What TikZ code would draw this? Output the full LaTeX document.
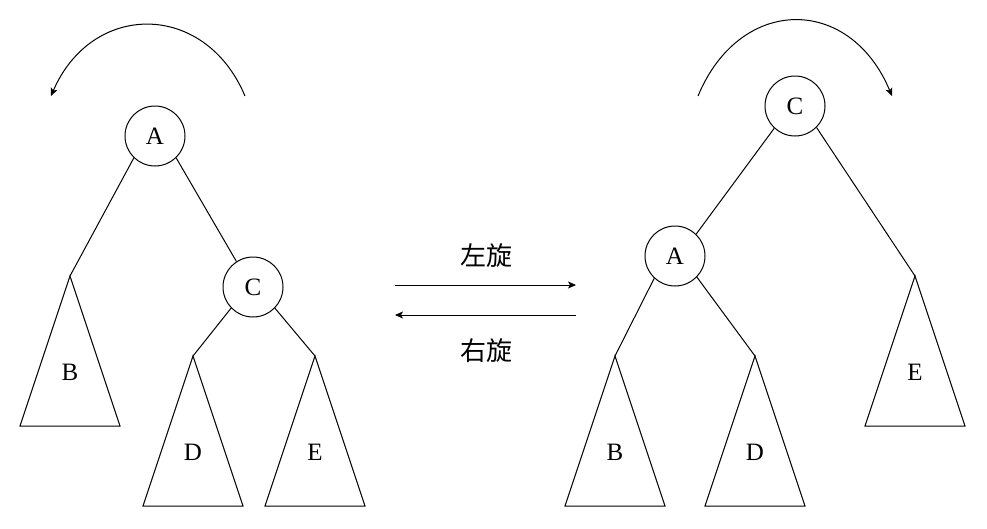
\documentclass[tikz,border=0pt]{standalone}
\usepackage{fontspec}
\setmainfont{Liberation Serif}
\newfontfamily\cjk{Noto Sans CJK SC}
\usetikzlibrary{arrows.meta}
\begin{document}
\begin{tikzpicture}[x=1pt,y=-1pt,line width=1pt,
  tip/.style={-{Stealth[length=8pt,width=7pt,inset=2pt]}},
  circ/.style={draw,circle,minimum size=60pt,inner sep=0pt,font=\fontsize{25}{30}\selectfont},
  lab/.style={font=\fontsize{25}{30}\selectfont},
  zh/.style={font=\cjk\fontsize{26}{30}\selectfont},
  tri/.style={draw}]
\useasboundingbox (0,0) rectangle (987,528);
% ---- left tree ----
\node[circ] (LA) at (155,136) {A};
\node[circ] (LC) at (253,287) {C};
\coordinate (LBt) at (70,276);
\coordinate (LDt) at (193,356);
\coordinate (LEt) at (315,356);
\draw (LBt) -- ++(-50,150) -- ++(100,0) -- cycle;
\draw (LDt) -- ++(-50,150) -- ++(100,0) -- cycle;
\draw (LEt) -- ++(-50,150) -- ++(100,0) -- cycle;
\node[lab] (LB) at (70,372) {B};
\node[lab] (LD) at (193,452) {D};
\node[lab] (LE) at (315,452) {E};
\draw (LA.226) -- (LBt);
\draw (LA.314) -- (LC.123);
\draw (LC.224) -- (LDt);
\draw (LC.316) -- (LEt);
\coordinate (LS) at (245,96);
\coordinate (LT) at (51,96);
\draw[tip] (LS) .. controls (205,1) and (92,1) .. (LT);
% ---- middle ----
\coordinate (M1) at (395,285);
\coordinate (M2) at (576,285);
\coordinate (M3) at (576,315);
\coordinate (M4) at (395,315);
\draw[tip] (M1) -- (M2);
\draw[tip] (M3) -- (M4);
\node[zh] (zuo) at (486,256) {左旋};
\node[zh] (you) at (486,351) {右旋};
% ---- right tree ----
\node[circ] (RC) at (795,106) {C};
\node[circ] (RA) at (675,256) {A};
\coordinate (RBt) at (615,356);
\coordinate (RDt) at (755,356);
\coordinate (REt) at (915,276);
\draw (RBt) -- ++(-50,150) -- ++(100,0) -- cycle;
\draw (RDt) -- ++(-50,150) -- ++(100,0) -- cycle;
\draw (REt) -- ++(-50,150) -- ++(100,0) -- cycle;
\node[lab] (RB) at (615,452) {B};
\node[lab] (RD) at (755,452) {D};
\node[lab] (RE) at (915,372) {E};
\draw (RC.227) -- (RA.46);
\draw (RC.315) -- (REt);
\draw (RA.227) -- (RBt);
\draw (RA.316) -- (RDt);
\coordinate (RS) at (698,96);
\coordinate (RT) at (892,96);
\draw[tip] (RS) .. controls (740,-5) and (850,-5) .. (RT);
\end{tikzpicture}
\end{document}
